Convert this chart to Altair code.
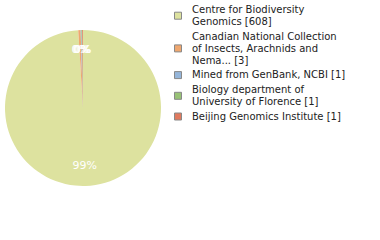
import altair as alt
import pandas as pd

labels = [
    "Centre for Biodiversity\nGenomics [608]",
    "Canadian National Collection\nof Insects, Arachnids and\nNema... [3]",
    "Mined from GenBank, NCBI [1]",
    "Biology department of\nUniversity of Florence [1]",
    "Beijing Genomics Institute [1]",
]
counts = [608, 3, 1, 1, 1]
colors = ["#dde29f", "#efa76f", "#95b6da", "#98c276", "#e07a5e"]

total = sum(counts)
df = pd.DataFrame({
    "label": labels,
    "count": counts,
    "idx": list(range(len(labels))),
    "pct": [f"{round(100 * c / total)}%" for c in counts],
})

# legend tables built from the labels (one row per text line)
ENTRY_GAP = 0.225  # extra spacing between entries, in line units
line_rows, sym_rows = [], []
g = 0
for e, lab in enumerate(labels):
    parts = lab.split("\n")
    lys = []
    for p in parts:
        ly = g + e * ENTRY_GAP
        line_rows.append({"line": p, "ly": ly})
        lys.append(ly)
        g += 1
    sym_rows.append({"label": lab, "ly": sum(lys) / len(lys)})
lines_df = pd.DataFrame(line_rows)
sym_df = pd.DataFrame(sym_rows)

FONT = "DejaVu Sans"

theta = alt.Theta("count:Q", stack=True)
order = alt.Order("idx:Q", sort="ascending")
color_scale = alt.Scale(domain=labels, range=colors)
ly_scale = alt.Scale(domain=[0, 10], range=[13, 133])

pie = alt.Chart(df).mark_arc(radius=78, x=83, y=108).encode(
    theta=theta, order=order,
    color=alt.Color("label:N", scale=color_scale, legend=None),
)

pct = alt.Chart(df).mark_text(
    radius=58, x=83, y=108, font=FONT, fontSize=11, color="white", baseline="middle"
).encode(theta=theta, order=order, text="pct:N")

squares = alt.Chart(sym_df).mark_square(
    x=178, size=49, opacity=1, filled=True, stroke="#888888", strokeWidth=1, yOffset=-3.3
).encode(
    y=alt.Y("ly:Q", scale=ly_scale, axis=None),
    color=alt.Color("label:N", scale=color_scale, legend=None),
)

legend_text = alt.Chart(lines_df).mark_text(
    x=192, align="left", baseline="alphabetic", font=FONT, fontSize=10, color="#222222"
).encode(
    y=alt.Y("ly:Q", scale=ly_scale, axis=None),
    text="line:N",
)

chart = (
    alt.layer(pie, pct, squares, legend_text)
    .properties(width=380, height=240, padding=0, autosize=alt.AutoSizeParams(type="none"))
    .configure_view(stroke=None)
)

chart.save("out.html", embed_options={"renderer": "svg", "actions": False})
